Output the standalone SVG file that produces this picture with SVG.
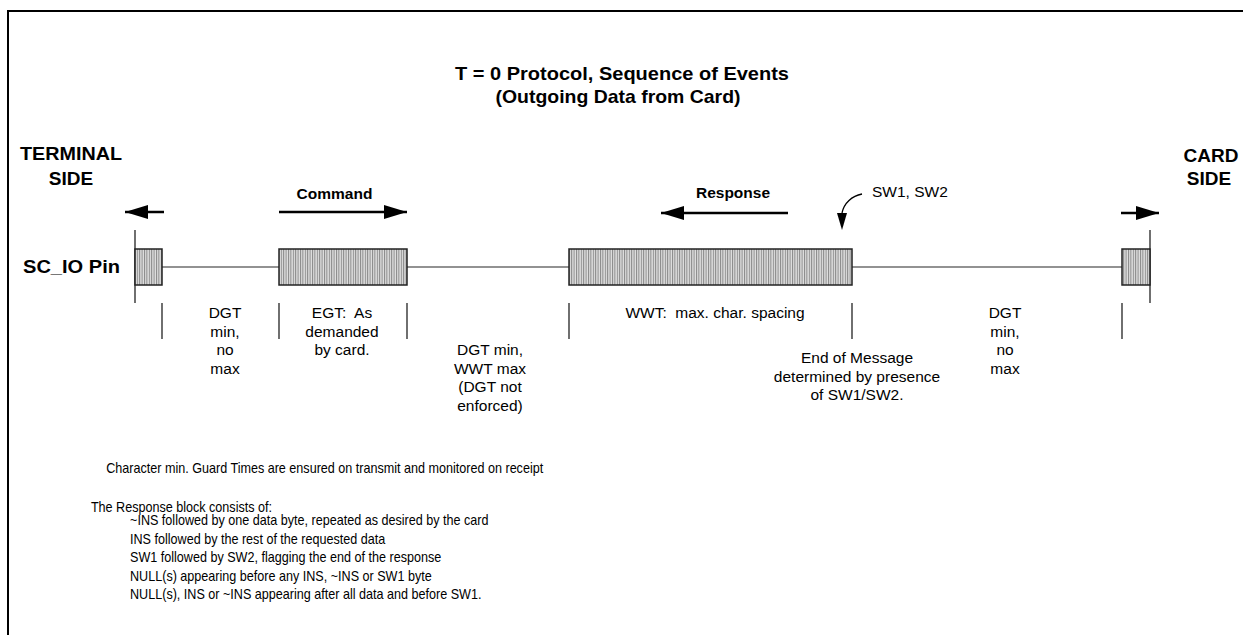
<svg xmlns="http://www.w3.org/2000/svg" width="1243" height="635" viewBox="0 0 1243 635">
<defs>
<pattern id="hatch" width="2.4" height="10" patternUnits="userSpaceOnUse">
<rect width="2.4" height="10" fill="#e0e0e0"/>
<rect width="1" height="10" fill="#868686"/>
</pattern>
<marker id="ah" markerUnits="userSpaceOnUse" markerWidth="24" markerHeight="14" refX="23" refY="7" orient="auto">
<path d="M0,0 L23,7 L0,14 z" fill="#000"/>
</marker>
<marker id="ahs" markerUnits="userSpaceOnUse" markerWidth="10" markerHeight="18" refX="5" refY="0" orient="0">
<path d="M0,0 L10,0 L5,17 z" fill="#000"/>
</marker>
</defs>
<style>
.t{font-family:"Liberation Sans",Arial,sans-serif;fill:#000}
.b{font-weight:bold}
.big{font-size:19px}
.lbl{font-size:15.5px}
.sm{font-size:14px}
.blk{fill:url(#hatch);stroke:#222;stroke-width:1.5}
.sig{stroke:#6e6e6e;stroke-width:1.6;fill:none}
.tick{stroke:#222;stroke-width:1.3}
.arr{stroke:#000;stroke-width:2.6;fill:none}
</style>
<rect x="8" y="11" width="1240" height="630" fill="#fff" stroke="#000" stroke-width="2"/>

<g id="title">
<text class="t b big" x="622" y="80" text-anchor="middle" textLength="334" lengthAdjust="spacingAndGlyphs">T = 0 Protocol, Sequence of Events</text>
<text class="t b big" x="618" y="103" text-anchor="middle" textLength="245" lengthAdjust="spacingAndGlyphs">(Outgoing Data from Card)</text>
</g>
<g id="terminal-side">
<text class="t b big" x="71" y="160" text-anchor="middle" textLength="102" lengthAdjust="spacingAndGlyphs">TERMINAL</text>
<text class="t b big" x="71" y="185" text-anchor="middle">SIDE</text>
</g>
<g id="card-side">
<text class="t b big" x="1211" y="162" text-anchor="middle">CARD</text>
<text class="t b big" x="1209" y="185" text-anchor="middle">SIDE</text>
</g>
<g id="pin-label">
<text class="t b big" x="23" y="273" textLength="97" lengthAdjust="spacingAndGlyphs">SC_IO Pin</text>
</g>

<g id="connectors">
<line class="sig" x1="162" y1="267" x2="279" y2="267"/>
<line class="sig" x1="407" y1="267" x2="569" y2="267"/>
<line class="sig" x1="852" y1="267" x2="1122" y2="267"/>
<line class="tick" x1="135" y1="230" x2="135" y2="303"/>
<line class="tick" x1="1150" y1="230" x2="1150" y2="303"/>
<line class="tick" x1="162" y1="303" x2="162" y2="339"/>
<line class="tick" x1="279" y1="303" x2="279" y2="339"/>
<line class="tick" x1="407" y1="303" x2="407" y2="339"/>
<line class="tick" x1="569" y1="303" x2="569" y2="339"/>
<line class="tick" x1="852" y1="303" x2="852" y2="339"/>
<line class="tick" x1="1122" y1="303" x2="1122" y2="339"/>
<line class="arr" x1="164" y1="212" x2="125" y2="212" marker-end="url(#ah)"/>
<line class="arr" x1="279" y1="212" x2="407" y2="212" marker-end="url(#ah)"/>
<line class="arr" x1="788" y1="213" x2="661" y2="213" marker-end="url(#ah)"/>
<line class="arr" x1="1121" y1="213" x2="1159" y2="213" marker-end="url(#ah)"/>
<path d="M862,194 C852,196 844,203 842,213" stroke="#000" stroke-width="1.3" fill="none" marker-end="url(#ahs)"/>
</g>

<g id="block-left"><rect class="blk" x="135" y="249" width="27" height="36"/></g>
<g id="block-command"><rect class="blk" x="279" y="249" width="128" height="36"/></g>
<g id="block-response"><rect class="blk" x="569" y="249" width="283" height="36"/></g>
<g id="block-right"><rect class="blk" x="1122" y="249" width="28" height="36"/></g>

<g id="label-command"><text class="t b lbl" x="334.5" y="199" text-anchor="middle">Command</text></g>
<g id="label-response"><text class="t b lbl" x="733" y="198" text-anchor="middle">Response</text></g>
<g id="label-sw"><text class="t lbl" x="872" y="197">SW1, SW2</text></g>

<g id="label-dgt-left">
<text class="t lbl" text-anchor="middle"><tspan x="225" y="318">DGT</tspan><tspan x="225" y="336.5">min,</tspan><tspan x="225" y="355">no</tspan><tspan x="225" y="373.5">max</tspan></text>
</g>
<g id="label-egt">
<text class="t lbl" text-anchor="middle" xml:space="preserve"><tspan x="342" y="318">EGT:  As</tspan><tspan x="342" y="336.5">demanded</tspan><tspan x="342" y="355">by card.</tspan></text>
</g>
<g id="label-dgt-wwt">
<text class="t lbl" text-anchor="middle"><tspan x="490" y="355">DGT min,</tspan><tspan x="490" y="373.5">WWT max</tspan><tspan x="490" y="392">(DGT not</tspan><tspan x="490" y="410.5">enforced)</tspan></text>
</g>
<g id="label-wwt">
<text class="t lbl" x="715" y="318" text-anchor="middle" xml:space="preserve">WWT:  max. char. spacing</text>
</g>
<g id="label-eom">
<text class="t lbl" text-anchor="middle"><tspan x="857" y="363">End of Message</tspan><tspan x="857" y="381.5">determined by presence</tspan><tspan x="857" y="400">of SW1/SW2.</tspan></text>
</g>
<g id="label-dgt-right">
<text class="t lbl" text-anchor="middle"><tspan x="1005" y="318">DGT</tspan><tspan x="1005" y="336.5">min,</tspan><tspan x="1005" y="355">no</tspan><tspan x="1005" y="373.5">max</tspan></text>
</g>

<g id="notes" transform="scale(0.9,1)">
<text class="t sm" x="118" y="473.5">Character min. Guard Times are ensured on transmit and monitored on receipt</text>
<text class="t sm" x="101" y="512.5">The Response block consists of:</text>
<text class="t sm"><tspan x="144.5" y="525.5">~INS followed by one data byte, repeated as desired by the card</tspan><tspan x="144.5" y="544">INS followed by the rest of the requested data</tspan><tspan x="144.5" y="562.5">SW1 followed by SW2, flagging the end of the response</tspan><tspan x="144.5" y="581">NULL(s) appearing before any INS, ~INS or SW1 byte</tspan><tspan x="144.5" y="599.5">NULL(s), INS or ~INS appearing after all data and before SW1.</tspan></text>
</g>
</svg>
